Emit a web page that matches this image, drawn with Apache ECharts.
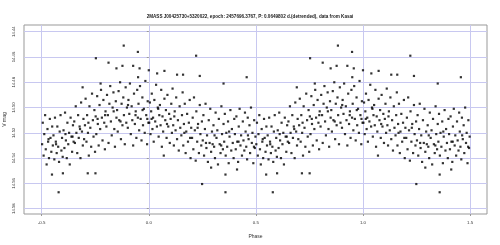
<!DOCTYPE html>
<html><head><meta charset="utf-8">
<script src="https://cdn.jsdelivr.net/npm/echarts@6/dist/echarts.min.js"></script>
<style>html,body{margin:0;padding:0;background:#fff}#c{width:500px;height:245px}</style>
</head><body><div id="c"></div>
<script>
const titleText = "2MASS J00425730+5320022, epoch: 2457696.3767, P: 0.0649802 d.(detrended), data from Kasai";
const xTicks = [-0.5, 0.0, 0.5, 1.0, 1.5];
const xTickLabels = ["-0.5", "0.0", "0.5", "1.0", "1.5"];
const yTicks = [14.44, 14.46, 14.48, 14.50, 14.52, 14.54, 14.56, 14.58];
const yTickLabels = ["14.44", "14.46", "14.48", "14.50", "14.52", "14.54", "14.56", "14.58"];
// one cycle of phase (0..1) and V magnitude
const phase = [0.221,0.883,0.949,0.753,0.812,0.849,0.877,0.927,0.957,0.000,0.950,0.039,0.073,0.132,0.160,0.238,0.457,0.691,0.775,0.349,
0.548,0.579,0.599,0.715,0.751,0.249,0.358,0.358,0.291,0.412,
0.002,0.005,0.008,0.011,0.014,0.017,0.020,0.023,0.026,0.030,0.034,0.038,0.042,0.046,0.049,
0.052,0.055,0.058,0.061,0.064,0.067,0.070,0.073,0.077,0.080,0.083,0.087,0.091,0.095,0.098,
0.102,0.105,0.108,0.111,0.114,0.117,0.121,0.125,0.128,0.132,0.136,0.140,0.144,0.147,
0.152,0.155,0.158,0.161,0.164,0.168,0.172,0.175,0.179,0.183,0.187,0.191,0.195,0.198,
0.202,0.205,0.208,0.211,0.215,0.219,0.222,0.226,0.230,0.234,0.238,0.241,0.245,0.248,
0.252,0.255,0.258,0.262,0.265,0.269,0.272,0.276,0.280,0.284,0.287,0.291,0.295,0.298,
0.302,0.305,0.309,0.312,0.316,0.320,0.323,0.327,0.331,0.335,0.339,0.342,0.346,0.349,
0.352,0.355,0.359,0.362,0.366,0.370,0.373,0.377,0.381,0.385,0.388,0.392,0.396,0.399,
0.402,0.406,0.409,0.413,0.417,0.420,0.424,0.428,0.431,0.435,0.439,0.442,0.446,0.449,
0.452,0.455,0.459,0.462,0.466,0.470,0.473,0.477,0.481,0.484,0.488,0.492,0.495,0.498,
0.502,0.505,0.509,0.512,0.516,0.519,0.523,0.527,0.530,0.534,0.538,0.541,0.545,0.549,
0.552,0.555,0.559,0.562,0.566,0.570,0.573,0.577,0.581,0.584,0.588,0.592,0.595,0.598,
0.602,0.606,0.609,0.613,0.617,0.620,0.624,0.628,0.631,0.635,0.639,0.642,0.646,0.649,
0.652,0.655,0.659,0.662,0.666,0.670,0.673,0.677,0.681,0.684,0.688,0.692,0.695,0.698,
0.702,0.705,0.709,0.712,0.716,0.720,0.723,0.727,0.731,0.735,0.739,0.742,0.746,0.749,
0.752,0.755,0.759,0.762,0.766,0.770,0.773,0.777,0.781,0.784,0.788,0.792,0.795,0.798,
0.802,0.805,0.809,0.812,0.816,0.820,0.823,0.827,0.831,0.835,0.839,0.842,0.846,0.849,
0.852,0.855,0.859,0.862,0.866,0.870,0.873,0.877,0.881,0.884,0.888,0.892,0.895,0.898,
0.902,0.905,0.909,0.912,0.916,0.920,0.923,0.927,0.931,0.935,0.939,0.942,0.946,0.949,
0.952,0.955,0.959,0.962,0.966,0.970,0.973,0.977,0.981,0.984,0.988,0.992,0.995,0.998,
0.013,0.044,0.085,0.119,0.166,0.193,0.228,0.267,0.307,0.338,0.375,0.419,0.463,0.491,
0.532,0.567,0.611,0.644,0.679,0.718,0.761,0.796,0.836,0.868,0.903,0.938,0.971,0.993];
const vmag = [14.459,14.451,14.456,14.461,14.4645,14.469,14.467,14.467,14.469,14.4705,14.476,14.473,14.471,14.474,14.474,14.475,14.476,14.484,14.481,14.481,
14.553,14.567,14.552,14.552,14.552,14.5605,14.567,14.553,14.5475,14.549,
14.512,14.496,14.521,14.503,14.489,14.517,14.508,14.527,14.494,14.511,14.482,14.515,14.500,14.523,14.506,
14.498,14.514,14.486,14.531,14.507,14.519,14.538,14.493,14.510,14.502,14.524,14.490,14.515,14.505,14.528,
14.509,14.497,14.520,14.485,14.514,14.530,14.503,14.518,14.492,14.525,14.510,14.534,14.499,14.516,
14.522,14.506,14.488,14.530,14.513,14.497,14.536,14.519,14.505,14.527,14.512,14.494,14.540,14.516,
14.524,14.508,14.533,14.492,14.518,14.542,14.503,14.527,14.513,14.536,14.498,14.521,14.530,14.511,
14.526,14.506,14.538,14.517,14.497,14.532,14.522,14.543,14.510,14.528,14.501,14.535,14.519,14.529,
14.514,14.531,14.540,14.504,14.524,14.518,14.545,14.509,14.529,14.536,14.499,14.521,14.533,14.513,
14.527,14.505,14.538,14.520,14.531,14.511,14.544,14.523,14.502,14.534,14.517,14.528,14.540,14.509,
14.521,14.533,14.507,14.527,14.543,14.515,14.501,14.530,14.522,14.538,14.511,14.526,14.534,14.504,
14.519,14.531,14.541,14.508,14.525,14.514,14.536,14.500,14.528,14.520,14.544,14.510,14.532,14.523,
14.529,14.512,14.538,14.521,14.506,14.533,14.545,14.517,14.527,14.540,14.509,14.524,14.535,14.515,
14.530,14.522,14.541,14.508,14.527,14.536,14.515,14.531,14.543,14.519,14.506,14.534,14.524,14.539,
14.518,14.532,14.504,14.526,14.540,14.512,14.529,14.520,14.545,14.508,14.523,14.535,14.514,14.527,
14.511,14.528,14.499,14.520,14.536,14.506,14.524,14.515,14.540,14.496,14.519,14.530,14.509,14.525,
14.514,14.493,14.527,14.506,14.520,14.538,14.499,14.516,14.531,14.489,14.510,14.523,14.502,14.535,
14.507,14.521,14.491,14.513,14.530,14.498,14.517,14.486,14.508,14.526,14.494,14.512,14.533,14.503,
14.515,14.490,14.506,14.528,14.497,14.483,14.511,14.522,14.500,14.488,14.517,14.531,14.495,14.508,
14.502,14.519,14.487,14.510,14.480,14.525,14.497,14.514,14.492,14.506,14.529,14.484,14.512,14.500,
14.516,14.494,14.505,14.481,14.521,14.499,14.510,14.530,14.489,14.513,14.503,14.524,14.486,14.508,
14.497,14.518,14.483,14.509,14.526,14.492,14.514,14.501,14.520,14.479,14.506,14.529,14.495,14.512,
14.509,14.501,14.513,14.507,14.520,14.524,14.516,14.528,14.522,14.530,14.519,14.527,14.522,14.531,
14.525,14.529,14.521,14.523,14.517,14.512,14.509,14.506,14.503,14.511,14.498,14.506,14.502,14.509];

// the plot shows phases -0.5..1.5: each observation appears twice
const pts = [];
for (let i = 0; i < phase.length; i++) {
  pts.push([phase[i], vmag[i]]);
  if (phase[i] <= 0.5) pts.push([phase[i] + 1, vmag[i]]);
  if (phase[i] >= 0.5) pts.push([phase[i] - 1, vmag[i]]);
}

const font = 'Liberation Sans, Arial, sans-serif';
const chart = echarts.init(document.getElementById('c'), null, {renderer: 'canvas'});
chart.setOption({
  animation: false,
  backgroundColor: '#fff',
  title: {
    text: titleText, left: 'center', top: 9,
    textStyle: {fontFamily: font, fontSize: 4.6, fontWeight: 'bold', color: '#222'}
  },
  grid: {left: 24, right: 13, top: 25, bottom: 31, outerBoundsMode: 'none', containLabel: false,
    show: true, borderColor: '#999', borderWidth: 1, backgroundColor: 'transparent'},
  xAxis: {
    type: 'value', min: -0.5826, max: 1.579,
    name: 'Phase', nameLocation: 'middle', nameGap: 20,
    nameTextStyle: {fontFamily: font, fontSize: 5, color: '#333'},
    axisLine: {show: false},
    axisTick: {show: true, customValues: xTicks, length: 2, lineStyle: {color: '#999', width: 1}},
    axisLabel: {customValues: xTicks, formatter: v => xTickLabels[xTicks.indexOf(+v.toFixed(2))] ?? '', fontFamily: font, fontSize: 4.4, color: '#333', margin: 7},
    splitLine: {show: true, lineStyle: {color: '#c8c8f0', width: 1}}
  },
  yAxis: {
    type: 'value', inverse: true, min: 14.4347, max: 14.5842,
    name: 'V mag', nameLocation: 'middle', nameGap: 17, nameRotate: 90, nameMoveOverlap: false,
    nameTextStyle: {fontFamily: font, fontSize: 5, color: '#333', verticalAlign: 'bottom'},
    axisLine: {show: false},
    axisTick: {show: true, customValues: yTicks, length: 2, lineStyle: {color: '#999', width: 1}},
    axisLabel: {customValues: yTicks, rotate: 90, formatter: v => yTickLabels[yTicks.indexOf(+v.toFixed(2))] ?? '', fontFamily: font, fontSize: 4.2, color: '#333', margin: 8},
    splitLine: {show: true, lineStyle: {color: '#c8c8f0', width: 1}}
  },
  series: [{
    type: 'scatter', data: pts, symbol: 'rect', symbolSize: 2.2,
    itemStyle: {color: '#000'}, silent: true
  }]
});
</script></body></html>
